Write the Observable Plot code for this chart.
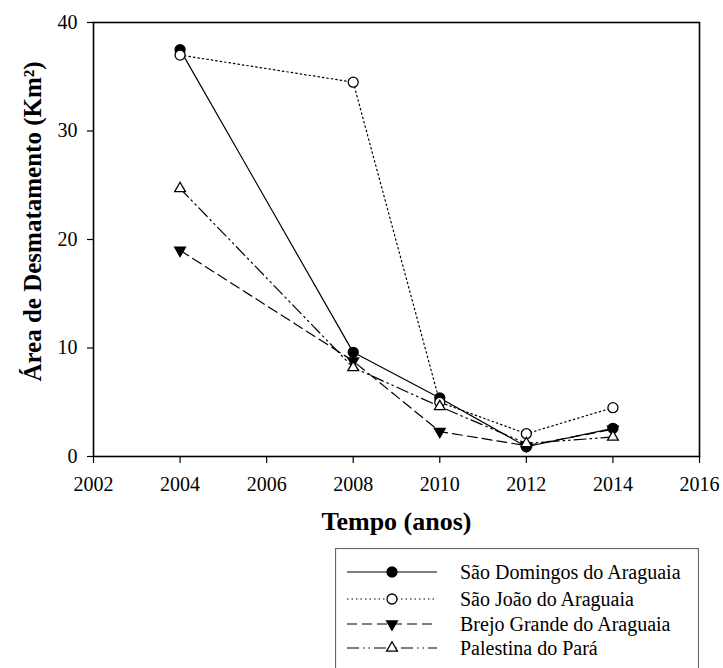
<!DOCTYPE html>
<html>
<head>
<meta charset="utf-8">
<script src="https://cdn.jsdelivr.net/npm/d3@7"></script>
<script src="https://cdn.jsdelivr.net/npm/@observablehq/plot@0.6"></script>
<style>
  body { margin: 0; background: #fff; }
  #wrap { position: relative; width: 723px; height: 668px; overflow: hidden; background: #fff; }
  #legend { position: absolute; left: 335px; top: 548px; }
  svg, svg text { font-family: "Liberation Serif", "Times New Roman", serif !important; }
</style>
</head>
<body>
<div id="wrap"></div>
<script>
const years = [2004, 2008, 2010, 2012, 2014];
const seriesNames = ["São Domingos do Araguaia", "São João do Araguaia", "Brejo Grande do Araguaia", "Palestina do Pará"];
const saoDomingos = [37.5, 9.6, 5.4, 0.9, 2.6];
const saoJoao = [37.0, 34.5, 5.0, 2.1, 4.5];
const brejoGrande = [19.0, 8.8, 2.3, 1.0, 2.5];
const palestina = [24.7, 8.2, 4.6, 1.2, 1.8];
const xTicks = [2002, 2004, 2006, 2008, 2010, 2012, 2014, 2016];
const yTicks = [0, 10, 20, 30, 40];
const xTitle = "Tempo (anos)";
const yTitle = "Área de Desmatamento (Km²)";

const serif = "Liberation Serif";
const allValues = [saoDomingos, saoJoao, brejoGrande, palestina];
const styles = [
  {dash: null, symbol: "circle", fill: "black", rotate: 0, r: 5},
  {dash: "1.5,3", symbol: "circle", fill: "white", rotate: 0, r: 5},
  {dash: "10,5", symbol: "triangle", fill: "black", rotate: 180, r: 4},
  {dash: "12,4,1.5,4,1.5,4", symbol: "triangle", fill: "white", rotate: 0, r: 4}
];
const tables = allValues.map((vals, i) => years.map((y, j) => ({year: y, value: vals[j], series: seriesNames[i]})));

const marks = [];
tables.forEach((t, i) => {
  marks.push(Plot.line(t, {x: "year", y: "value", stroke: "black", strokeWidth: 1.2, strokeDasharray: styles[i].dash}));
});
tables.forEach((t, i) => {
  marks.push(Plot.dot(t, {x: "year", y: "value", symbol: styles[i].symbol, r: styles[i].r, fill: styles[i].fill, stroke: "black", strokeWidth: 1.3, rotate: styles[i].rotate}));
});

const chart = Plot.plot({
  width: 723,
  height: 668,
  marginLeft: 93,
  marginRight: 24,
  marginTop: 22,
  marginBottom: 212,
  style: {fontFamily: serif, background: "white", color: "black"},
  x: {domain: [2002, 2016]},
  y: {domain: [0, 40]},
  marks: [
    Plot.axisX({ticks: xTicks, tickSize: 7, tickPadding: 13, tickFormat: d => String(d), fontSize: 20, fontFamily: serif, label: null, strokeWidth: 1.2}),
    Plot.axisY({ticks: yTicks, tickSize: 6, tickPadding: 10, fontSize: 20, fontFamily: serif, label: null, strokeWidth: 1.2}),
    ...marks,
    Plot.frame({stroke: "black", strokeWidth: 1.6}),
    Plot.text([xTitle], {frameAnchor: "bottom", textAnchor: "middle", dy: 73, fontSize: 26, fontWeight: "bold", fontFamily: serif}),
    Plot.text([yTitle], {frameAnchor: "left", textAnchor: "middle", rotate: -90, dx: -61, dy: -18, fontSize: 25, fontWeight: "bold", fontFamily: serif})
  ]
});
document.getElementById("wrap").appendChild(chart);

// Legend
const legend = d3.create("svg")
  .attr("id", "legend")
  .attr("width", 364)
  .attr("height", 130)
  .style("font-family", serif);
legend.append("rect").attr("x", 0.5).attr("y", 0.5).attr("width", 363).attr("height", 128)
  .attr("fill", "white").attr("stroke", "#666").attr("stroke-width", 1.2);
const rowY = [24, 51, 76, 100];
seriesNames.forEach((name, i) => {
  const g = legend.append("g").attr("transform", `translate(0,${rowY[i]})`);
  g.append("line").attr("x1", 12).attr("x2", 102).attr("y1", 0).attr("y2", 0)
    .attr("stroke", "black").attr("stroke-width", 1.2)
    .attr("stroke-dasharray", styles[i].dash);
  const sym = styles[i].symbol === "circle" ? d3.symbolCircle : d3.symbolTriangle;
  g.append("path").attr("d", d3.symbol(sym, Math.PI * styles[i].r * styles[i].r)())
    .attr("transform", `translate(57,0) rotate(${styles[i].rotate})`)
    .attr("fill", styles[i].fill).attr("stroke", "black").attr("stroke-width", 1.3);
  g.append("text").attr("x", 125).attr("y", 0).attr("dy", "0.35em")
    .attr("font-size", 20).attr("font-family", serif).text(name);
});
document.getElementById("wrap").appendChild(legend.node());
</script>
</body>
</html>
